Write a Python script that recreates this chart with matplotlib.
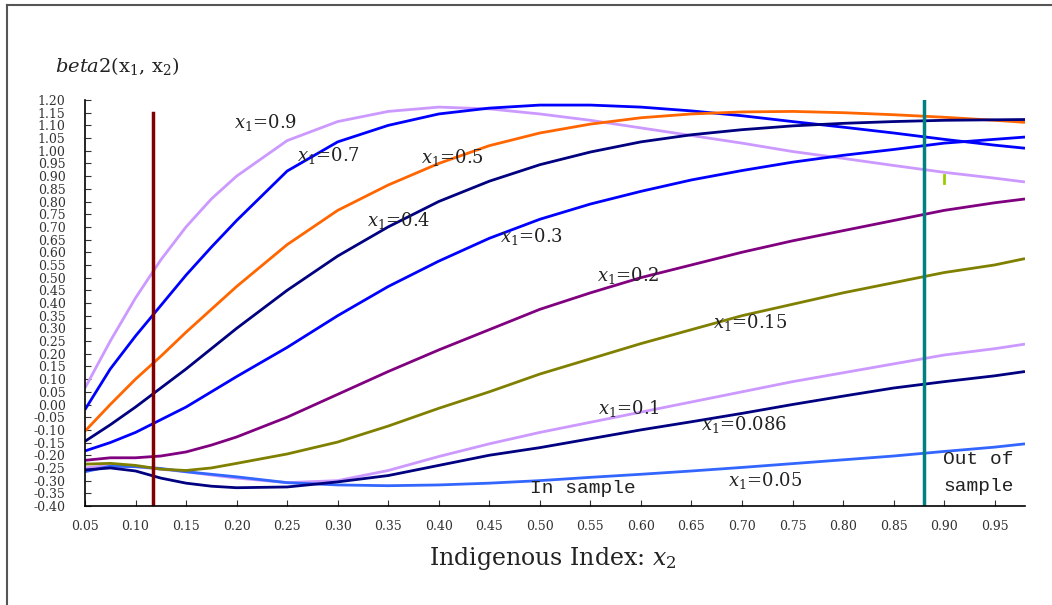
import matplotlib
matplotlib.use('Agg')
import matplotlib.pyplot as plt
from matplotlib.lines import Line2D
import numpy as np

# x2 grid the curves were read at
x2 = [0.05, 0.075, 0.10, 0.125, 0.15, 0.175, 0.20, 0.25, 0.30, 0.35, 0.40, 0.45,
      0.50, 0.55, 0.60, 0.65, 0.70, 0.75, 0.80, 0.85, 0.90, 0.95, 0.98]

# beta2 curves, one per x1 value
b_090 = [0.065, 0.25, 0.42, 0.57, 0.70, 0.81, 0.90, 1.04, 1.115, 1.155, 1.172, 1.165,
         1.145, 1.12, 1.09, 1.06, 1.03, 0.997, 0.97, 0.942, 0.915, 0.892, 0.877]
b_070 = [-0.02, 0.14, 0.27, 0.39, 0.51, 0.62, 0.725, 0.92, 1.035, 1.10, 1.145, 1.168,
         1.18, 1.18, 1.172, 1.157, 1.138, 1.115, 1.093, 1.07, 1.045, 1.022, 1.01]
b_050 = [-0.105, 0.0, 0.10, 0.19, 0.285, 0.375, 0.465, 0.63, 0.765, 0.865, 0.95, 1.02,
         1.07, 1.105, 1.13, 1.145, 1.153, 1.155, 1.15, 1.142, 1.132, 1.12, 1.112]
b_040 = [-0.145, -0.08, -0.01, 0.065, 0.14, 0.22, 0.30, 0.45, 0.585, 0.70, 0.80, 0.88,
         0.945, 0.995, 1.035, 1.063, 1.083, 1.098, 1.108, 1.115, 1.12, 1.122, 1.123]
b_030 = [-0.183, -0.15, -0.11, -0.06, -0.01, 0.05, 0.11, 0.225, 0.35, 0.465, 0.565, 0.655,
         0.73, 0.79, 0.84, 0.885, 0.922, 0.955, 0.982, 1.005, 1.03, 1.045, 1.054]
b_020 = [-0.22, -0.21, -0.21, -0.203, -0.187, -0.16, -0.128, -0.05, 0.04, 0.13, 0.215, 0.295,
         0.375, 0.44, 0.50, 0.55, 0.60, 0.645, 0.685, 0.725, 0.765, 0.795, 0.81]
b_015 = [-0.235, -0.232, -0.24, -0.255, -0.26, -0.25, -0.232, -0.195, -0.148, -0.085, -0.015, 0.05,
         0.12, 0.18, 0.24, 0.295, 0.35, 0.395, 0.44, 0.48, 0.52, 0.55, 0.575]
b_010 = [-0.25, -0.24, -0.245, -0.255, -0.265, -0.278, -0.29, -0.308, -0.30, -0.26, -0.205, -0.155,
         -0.11, -0.07, -0.03, 0.01, 0.05, 0.09, 0.125, 0.16, 0.195, 0.22, 0.238]
b_0086 = [-0.258, -0.25, -0.262, -0.29, -0.31, -0.322, -0.328, -0.325, -0.305, -0.28, -0.24, -0.20,
          -0.17, -0.135, -0.10, -0.068, -0.035, 0.0, 0.033, 0.065, 0.09, 0.113, 0.13]
b_005 = [-0.265, -0.243, -0.245, -0.252, -0.265, -0.275, -0.285, -0.308, -0.317, -0.32, -0.317, -0.31,
         -0.30, -0.287, -0.275, -0.262, -0.248, -0.233, -0.218, -0.203, -0.185, -0.168, -0.155]

# curve labels: text, x, y
labels = [('0.9', 0.197, 1.113), ('0.7', 0.26, 0.98), ('0.5', 0.382, 0.975),
          ('0.4', 0.329, 0.727), ('0.3', 0.461, 0.664), ('0.2', 0.557, 0.51),
          ('0.15', 0.671, 0.325), ('0.1', 0.558, -0.014), ('0.086', 0.659, -0.077),
          ('0.05', 0.686, -0.30)]

in_sample_end = 0.117
out_sample_start = 0.88

plt.rcParams['font.family'] = ['DejaVu Serif']
plt.rcParams['mathtext.fontset'] = 'dejavuserif'

fig = plt.figure(figsize=(10.52, 6.05), dpi=100)
ax = fig.add_axes([85 / 1052, 1 - 506 / 605, 940 / 1052, 406 / 605])

lw = 2.0
style = dict(lw=lw, solid_joinstyle='round', solid_capstyle='butt')
ax.plot(x2, b_090, color='#cc99ff', **style)
ax.plot(x2, b_070, color='#0000ff', **style)
ax.plot(x2, b_050, color='#ff6600', **style)
ax.plot(x2, b_040, color='#000080', **style)
ax.plot(x2, b_030, color='#0000ff', **style)
ax.plot(x2, b_020, color='#800080', **style)
ax.plot(x2, b_010, color='#cc99ff', **style)
ax.plot(x2, b_005, color='#3366ff', **style)
ax.plot(x2, b_0086, color='#000080', **style)
ax.plot(x2, b_015, color='#808000', **style)

# in / out of sample markers
ax.plot([in_sample_end, in_sample_end], [-0.40, 1.15], color='#800000', lw=2.5)
ax.plot([out_sample_start, out_sample_start], [-0.40, 1.20], color='#008080', lw=2.5)
ax.plot([0.8995, 0.8995], [0.873, 0.904], color='#99cc00', lw=2)

for txt, lx, ly in labels:
    ax.text(lx, ly, r'$x_1$=' + txt, fontsize=13, color='#222222', va='center', ha='left')

ax.text(0.49, -0.333, 'In sample', fontsize=14, family='Liberation Mono',
        color='#222222', va='center', ha='left')
ax.text(0.899, -0.27, 'Out of\nsample', fontsize=14, family='Liberation Mono',
        color='#222222', va='center', ha='left', linespacing=1.75)

ax.set_xlim(0.05, 0.98)
ax.set_ylim(-0.40, 1.20)
xt = np.arange(0.05, 0.951, 0.05)
yt = np.arange(-0.40, 1.201, 0.05)
ax.set_xticks(xt)
ax.set_xticklabels(['%.2f' % v for v in xt])
ax.set_yticks(yt)
ax.set_yticklabels(['%.2f' % v if abs(v) > 1e-9 else '0.00' for v in yt])
ax.tick_params(axis='both', direction='in', labelsize=9, colors='#333333', length=4)
ax.tick_params(axis='y', pad=14)
ax.tick_params(axis='x', pad=10)
for s in ['top', 'right']:
    ax.spines[s].set_visible(False)
for s in ['left', 'bottom']:
    ax.spines[s].set_color('black')
    ax.spines[s].set_linewidth(1.2)

fig.text(55 / 1052, 1 - 66 / 605, r'$\mathit{beta2}$(x$_1$, x$_2$)', fontsize=14,
         color='#222222', va='center', ha='left')
fig.text(553 / 1052, 1 - 559 / 605, 'Indigenous Index: ' + r'$x_2$', fontsize=17,
         color='#222222', va='center', ha='center')

# outer frame (left and top edges)
fig.add_artist(Line2D([7 / 1052, 7 / 1052], [0, 1 - 5 / 605], transform=fig.transFigure,
                      color='#555555', lw=1.5))
fig.add_artist(Line2D([7 / 1052, 1], [1 - 5 / 605, 1 - 5 / 605], transform=fig.transFigure,
                      color='#555555', lw=1.5))

fig.savefig('out.png', dpi=100)
